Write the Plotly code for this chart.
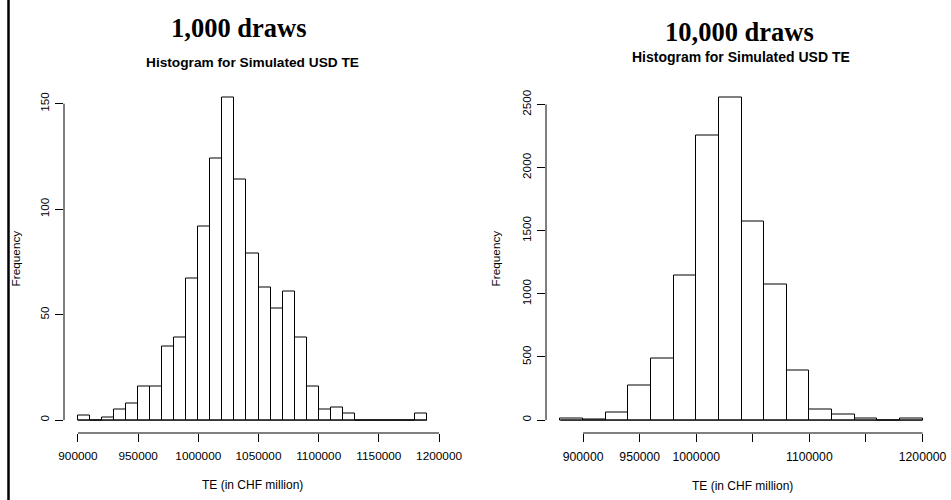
import plotly.graph_objects as go

# ---------------- data ----------------
# Left histogram: 1,000 draws, bins of 10,000 starting at 900,000
left_bin_start = 900000
left_bin_width = 10000
left_counts = [2, 0, 1, 5, 8, 16, 16, 35, 39, 67, 92, 124, 153, 114, 79, 63,
               53, 61, 39, 16, 5, 6, 3, 0, 0, 0, 0, 0, 3]
left_xticks = [900000, 950000, 1000000, 1050000, 1100000, 1150000, 1200000]
left_xticktext = ["900000", "950000", "1000000", "1050000", "1100000", "1150000", "1200000"]
left_yticks = [0, 50, 100, 150]

# Right histogram: 10,000 draws, bins of 20,000 starting at 880,000
right_bin_start = 880000
right_bin_width = 20000
right_counts = [16, 8, 63, 277, 486, 1143, 2255, 2556, 1571, 1072, 396, 87, 42, 15, 0, 13]
right_xticks = [900000, 950000, 1000000, 1050000, 1100000, 1150000, 1200000]
right_xticktext = ["900000", "950000", "1000000", "", "1100000", "", "1200000"]
right_yticks = [0, 500, 1000, 1500, 2000, 2500]

titles = ["1,000 draws", "10,000 draws"]
subtitle = "Histogram for Simulated USD TE"
xlabel = "TE (in CHF million)"
ylabel = "Frequency"

# ---------------- layout constants ----------------
W, H = 951, 500
def px(x):
    return x / W
def py(y):
    return 1 - y / H

left_dom = [px(64), px(441)]
right_dom = [px(546), px(937)]
y_dom = [py(433), py(84.5)]

SANS = "Liberation Sans, Arial, sans-serif"
SERIF = "Liberation Serif, Times New Roman, serif"

def edges(start, width, counts):
    return [start + i * width for i in range(len(counts) + 1)]

def r_range(lo, hi):
    d = (hi - lo) * 0.04
    return [lo - d, hi + d]

fig = go.Figure()

panels = [
    (left_bin_start, left_bin_width, left_counts, "x", "y"),
    (right_bin_start, right_bin_width, right_counts, "x2", "y2"),
]
for start, width, counts, xa, ya in panels:
    e = edges(start, width, counts)
    centers = [(e[i] + e[i + 1]) / 2 for i in range(len(counts))]
    fig.add_trace(go.Bar(
        x=centers, y=counts, width=width,
        marker=dict(color="white", line=dict(color="black", width=1)),
        xaxis=xa, yaxis=ya, showlegend=False, hoverinfo="x+y",
    ))
    # baseline (zero-count bins are drawn as flat lines in R)
    fig.add_trace(go.Scatter(
        x=[e[0], e[-1]], y=[0, 0], mode="lines",
        line=dict(color="black", width=1),
        xaxis=xa, yaxis=ya, showlegend=False, hoverinfo="skip",
    ))

le = edges(left_bin_start, left_bin_width, left_counts)
re_ = edges(right_bin_start, right_bin_width, right_counts)

tickfont = dict(family=SANS, size=11.8, color="black")
common_x = dict(showgrid=False, zeroline=False, showline=False, ticks="outside",
                ticklen=8, tickwidth=1, tickcolor="black", tickfont=tickfont,
                ticklabelstandoff=4, automargin=False, fixedrange=True)
common_y = dict(showgrid=False, zeroline=False, showline=False, ticks="outside",
                ticklen=8, tickwidth=1, tickcolor="black", tickfont=tickfont,
                ticklabelstandoff=1, tickangle=-90, domain=y_dom,
                automargin=False, fixedrange=True)

fig.update_layout(
    template="none",
    width=W, height=H,
    margin=dict(l=0, r=0, t=0, b=0, pad=0),
    paper_bgcolor="white", plot_bgcolor="white",
    showlegend=False,
    bargap=0,
    xaxis=dict(common_x, domain=left_dom, anchor="y",
               range=r_range(le[0], le[-1]),
               tickmode="array", tickvals=left_xticks, ticktext=left_xticktext),
    yaxis=dict(common_y, anchor="x",
               range=r_range(0, max(left_counts)),
               tickmode="array", tickvals=left_yticks,
               ticktext=[str(v) for v in left_yticks]),
    xaxis2=dict(common_x, domain=right_dom, anchor="y2",
                range=r_range(re_[0], re_[-1]),
                tickmode="array", tickvals=right_xticks, ticktext=right_xticktext,
                tickfont=dict(family=SANS, size=12.2, color="black")),
    yaxis2=dict(common_y, anchor="x2",
                range=r_range(0, max(right_counts)),
                tickmode="array", tickvals=right_yticks,
                ticktext=[str(v) for v in right_yticks]),
)

shapes = []
# R-style axis lines spanning only the tick range
shapes.append(dict(type="line", xref="x", yref="paper", x0=left_xticks[0], x1=left_xticks[-1],
                   y0=y_dom[0], y1=y_dom[0], line=dict(color="black", width=1)))
shapes.append(dict(type="line", xref="x2", yref="paper", x0=right_xticks[0], x1=right_xticks[-1],
                   y0=y_dom[0], y1=y_dom[0], line=dict(color="black", width=1)))
shapes.append(dict(type="line", xref="paper", yref="y", x0=left_dom[0], x1=left_dom[0],
                   y0=left_yticks[0], y1=left_yticks[-1], line=dict(color="black", width=1)))
shapes.append(dict(type="line", xref="paper", yref="y2", x0=right_dom[0], x1=right_dom[0],
                   y0=right_yticks[0], y1=right_yticks[-1], line=dict(color="black", width=1)))
# left page border
shapes.append(dict(type="line", xref="paper", yref="paper", x0=px(8.5), x1=px(8.5),
                   y0=0, y1=1, line=dict(color="black", width=2.5)))
fig.update_layout(shapes=shapes)

ann = []
# big titles
ann.append(dict(text="<b>" + titles[0] + "</b>", x=px(238.5), y=py(28), xref="paper", yref="paper",
                showarrow=False, xanchor="center", yanchor="middle",
                font=dict(family=SERIF, size=26.5, color="black")))
ann.append(dict(text="<b>" + titles[1] + "</b>", x=px(739), y=py(32.5), xref="paper", yref="paper",
                showarrow=False, xanchor="center", yanchor="middle",
                font=dict(family=SERIF, size=26.5, color="black")))
# subtitles
ann.append(dict(text="<b>" + subtitle + "</b>", x=px(252.5), y=py(62), xref="paper", yref="paper",
                showarrow=False, xanchor="center", yanchor="middle",
                font=dict(family=SANS, size=13.7, color="black")))
ann.append(dict(text="<b>" + subtitle + "</b>", x=px(741), y=py(57.5), xref="paper", yref="paper",
                showarrow=False, xanchor="center", yanchor="middle",
                font=dict(family=SANS, size=14.0, color="black")))
# axis titles
for xc, yc in [(252.7, 485), (742, 486)]:
    ann.append(dict(text=xlabel, x=px(xc), y=py(yc), xref="paper", yref="paper",
                    showarrow=False, xanchor="center", yanchor="middle",
                    font=dict(family=SANS, size=12, color="black")))
for xc in [15, 495]:
    ann.append(dict(text=ylabel, x=px(xc), y=py(258.5), xref="paper", yref="paper",
                    showarrow=False, xanchor="center", yanchor="middle", textangle=-90,
                    font=dict(family=SANS, size=11.8, color="black")))
fig.update_layout(annotations=ann)

fig.write_html("out.html", config={"displayModeBar": False},
               post_script="document.body.style.margin='0';")
